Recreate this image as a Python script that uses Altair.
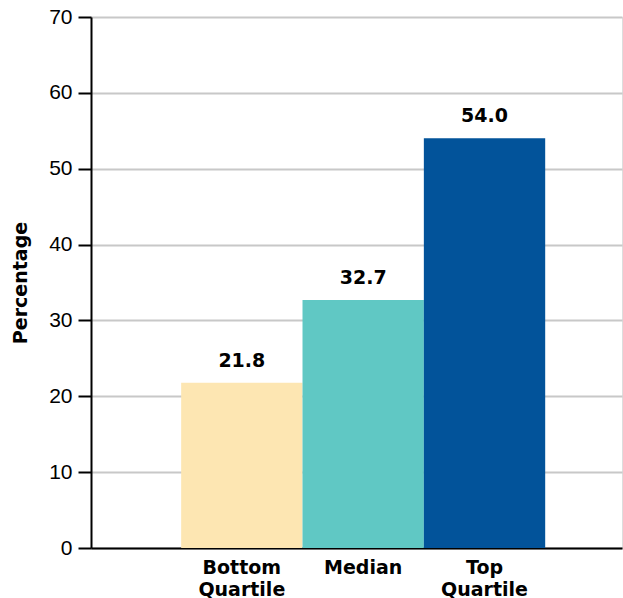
import altair as alt
import pandas as pd

# Share of respondents by quartile group
groups = ["Bottom Quartile", "Median", "Top Quartile"]
percentages = [21.8, 32.7, 54.0]
bar_colors = ["#FDE6B2", "#60C8C4", "#02539A"]

df = pd.DataFrame({"group": groups, "pct": percentages})

x_enc = alt.X(
    "group:N",
    sort=groups,
    title=None,
    scale=alt.Scale(paddingInner=0, paddingOuter=0.688, align=0.54),
    axis=alt.Axis(
        labelExpr="split(datum.label, ' ')",
        labelAngle=0,
        labelFont="DejaVu Sans",
        labelFontWeight="bold",
        labelFontSize=19,
        labelColor="black",
        labelBaseline="middle",
        labelLineHeight=22,
        labelPadding=19,
        ticks=False,
        tickSize=0,
        domainColor="black",
        domainWidth=2,
        grid=False,
    ),
)

y_enc = alt.Y(
    "pct:Q",
    scale=alt.Scale(domain=[0, 70], nice=False),
    axis=alt.Axis(
        values=[0, 10, 20, 30, 40, 50, 60, 70],
        title="Percentage",
        titleFont="DejaVu Sans",
        titleFontWeight="bold",
        titleFontSize=19,
        titleColor="black",
        titleAngle=-90,
        titleX=-71,
        titleY=265.5,
        titleAlign="center",
        titleBaseline="middle",
        labelFont="Arial",
        labelFontSize=21,
        labelColor="black",
        labelPadding=6,
        tickSize=13,
        tickWidth=2,
        tickColor="black",
        domainColor="black",
        domainWidth=2,
        grid=True,
        gridColor="#c8c8c8",
        gridWidth=2,
    ),
)

bars = alt.Chart(df).mark_bar().encode(
    x=x_enc,
    y=y_enc,
    color=alt.Color("group:N", sort=groups,
                    scale=alt.Scale(domain=groups, range=bar_colors),
                    legend=None),
)

labels = alt.Chart(df).mark_text(
    font="DejaVu Sans", fontWeight="bold", fontSize=19,
    color="black", baseline="alphabetic", dy=-16,
).encode(
    x=alt.X("group:N", sort=groups),
    y=alt.Y("pct:Q"),
    text=alt.Text("pct:Q", format=".1f"),
)

chart = (
    alt.layer(bars, labels)
    .properties(
        width=531,
        height=531,
        autosize=alt.AutoSizeParams(type="none"),
        padding={"left": 91, "top": 17, "right": 1, "bottom": 50},
    )
    .configure_view(stroke=None)
    .configure(background="white")
)

chart.save("out.html", embed_options={"renderer": "svg", "actions": False})
